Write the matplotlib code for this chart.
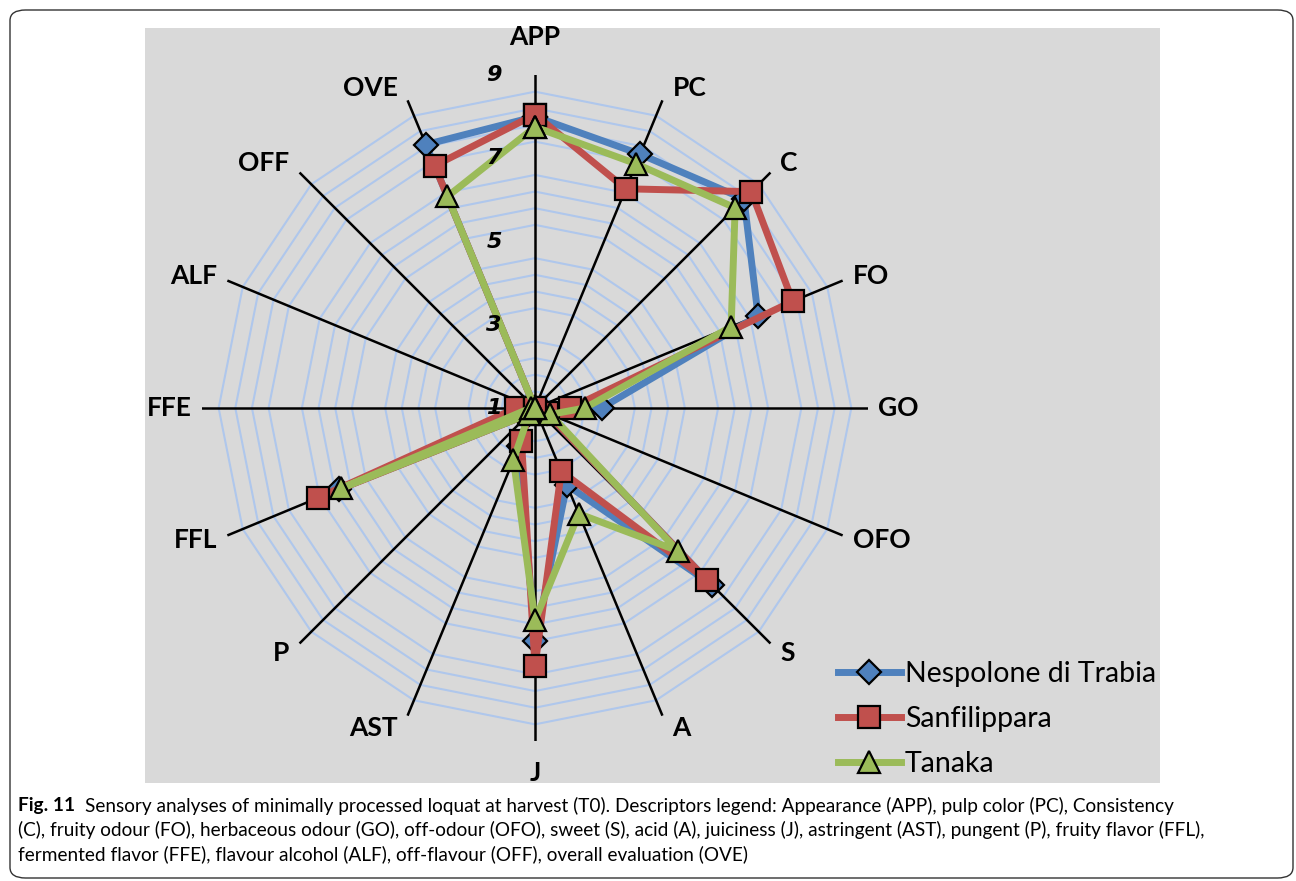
import numpy as np
import matplotlib
matplotlib.use('Agg')
from matplotlib import pyplot as plt
from matplotlib.patches import Rectangle, FancyBboxPatch
from matplotlib.lines import Line2D

categories = ['APP', 'PC', 'C', 'FO', 'GO', 'OFO', 'S', 'A', 'J', 'AST',
              'P', 'FFL', 'FFE', 'ALF', 'OFF', 'OVE']
nespolone = [8.0, 7.6, 8.1, 6.8, 2.6, 1.3, 7.0, 3.0, 6.6, 2.0,
             1.2, 6.1, 1.2, 1.0, 1.0, 7.85]
sanfilippara = [8.05, 6.7, 8.35, 7.7, 1.85, 1.3, 6.85, 2.65, 7.2, 1.85,
                1.2, 6.65, 1.45, 1.0, 1.0, 7.3]
tanaka = [7.75, 7.35, 7.8, 6.1, 2.2, 1.4, 5.85, 3.75, 6.1, 2.35,
          1.2, 6.05, 1.1, 1.0, 1.0, 6.5]
series_names = ['Nespolone di Trabia', 'Sanfilippara', 'Tanaka']
tick_vals = [1, 3, 5, 7, 9]

caption1 = ('Sensory analyses of minimally processed loquat at harvest (T0). '
            'Descriptors legend: Appearance (APP), pulp color (PC), Consistency')
caption2 = ('(C), fruity odour (FO), herbaceous odour (GO), off-odour (OFO), sweet (S), '
            'acid (A), juiciness (J), astringent (AST), pungent (P), fruity flavor (FFL),')
caption3 = ('fermented flavor (FFE), flavour alcohol (ALF), off-flavour (OFF), '
            'overall evaluation (OVE)')

W, H = 1296, 881
fig = plt.figure(figsize=(W / 100, H / 100), dpi=100)

# outer rounded frame + grey chart area
fig.patches.append(FancyBboxPatch((10 / W, 3 / H), 1283 / W, 868 / H,
                                  boxstyle='round,pad=0,rounding_size=0.012',
                                  transform=fig.transFigure, fill=False,
                                  ec='#333333', lw=1.0, zorder=-2))
fig.patches.append(Rectangle((145 / W, 1 - 783 / H), 1015 / W, 755 / H,
                             transform=fig.transFigure, fc='#d9d9d9', ec='none',
                             zorder=-1))

# polar axes: centre (535,408) px, value 9 at 333 px
cx, cy, R = 535, 408, 333
ax = fig.add_axes([(cx - R) / W, (H - cy - R) / H, 2 * R / W, 2 * R / H],
                  projection='polar')
ax.set_zorder(1)
ax.set_theta_zero_location('N')
ax.set_theta_direction(-1)
ax.set_ylim(1, 9)
ax.grid(False)
ax.set_xticks([])
ax.set_yticks([])
ax.spines['polar'].set_visible(False)
ax.patch.set_alpha(0)

n = len(categories)
theta = np.arange(n) * 2 * np.pi / n
theta_c = np.append(theta, theta[0])

# minor gridlines (every 0.4, major ones not shown)
for k in range(1, 20):
    g = 1 + 0.4 * k
    if k % 5 == 0:
        continue
    ax.plot(theta_c, [g] * (n + 1), color='#afc7ec', lw=1.5, zorder=1)

# spokes
for t in theta:
    ax.plot([t, t], [1, 9], color='black', lw=1.8, zorder=2)

# category labels, anchored just outside the spoke ends
for t, c in zip(theta, categories):
    s, co = np.sin(t), np.cos(t)
    if abs(s) < 0.1:
        ha = 'center'
        va = 'bottom' if co > 0 else 'top'
        off = (0, 26) if co > 0 else (0, -20)
    else:
        ha = 'left' if s > 0 else 'right'
        va = 'center'
        off = (10 * np.sign(s), 13 * co)
    ax.annotate(c, xy=(t, 9), xytext=off, textcoords='offset pixels',
                ha=ha, va=va, fontsize=19, fontweight='bold', family='Lato',
                annotation_clip=False)

# value labels along APP axis
for v in tick_vals:
    ax.annotate(str(v), xy=(0, v), xytext=(-41, 0), textcoords='offset pixels',
                ha='center', va='center', fontsize=16, fontweight='bold',
                fontstyle='italic', family='DejaVu Sans', annotation_clip=False,
                zorder=10)

colors = ['#4f81bd', '#c0504d', '#9bbb59']
markers = ['D', 's', '^']
msizes = [12, 16, 16]
data = [nespolone, sanfilippara, tanaka]
handles = []
for vals, col, mk, ms, name in zip(data, colors, markers, msizes, series_names):
    vv = vals + vals[:1]
    ax.plot(theta_c, vv, color=col, lw=5, marker=mk, markersize=ms,
            markerfacecolor=col, markeredgecolor='black', markeredgewidth=1.6,
            zorder=3, clip_on=False)
    handles.append(Line2D([], [], color=col, lw=5, marker=mk, markersize=ms,
                          markerfacecolor=col, markeredgecolor='black',
                          markeredgewidth=1.6, label=name))

fig.legend(handles=handles, loc='upper left', bbox_to_anchor=(838 / W, 1 - 661 / H),
           frameon=False, prop={'family': 'Lato', 'size': 20.5}, handlelength=2.2,
           handletextpad=0.15, labelspacing=0.66, borderpad=0, borderaxespad=0)

# caption, size fitted so line 2 ends near x=1212 px
cap_font = 'Lato'
renderer = fig.canvas.get_renderer()
probe = fig.text(18 / W, 0.5, caption2, fontsize=14, family=cap_font)
wpx = probe.get_window_extent(renderer).width
probe.remove()
cap_size = 14 * (1212 - 18) / wpx

t1 = fig.text(18 / W, 1 - 806 / H, 'Fig. 11', fontsize=cap_size, fontweight='bold',
              family=cap_font, va='center')
bw = t1.get_window_extent(renderer).width
fig.text((18 + bw + 10) / W, 1 - 806 / H, caption1, fontsize=cap_size,
         family=cap_font, va='center')
fig.text(18 / W, 1 - 830 / H, caption2, fontsize=cap_size, family=cap_font, va='center')
fig.text(18 / W, 1 - 854 / H, caption3, fontsize=cap_size, family=cap_font, va='center')

plt.savefig('out.png', dpi=100)
